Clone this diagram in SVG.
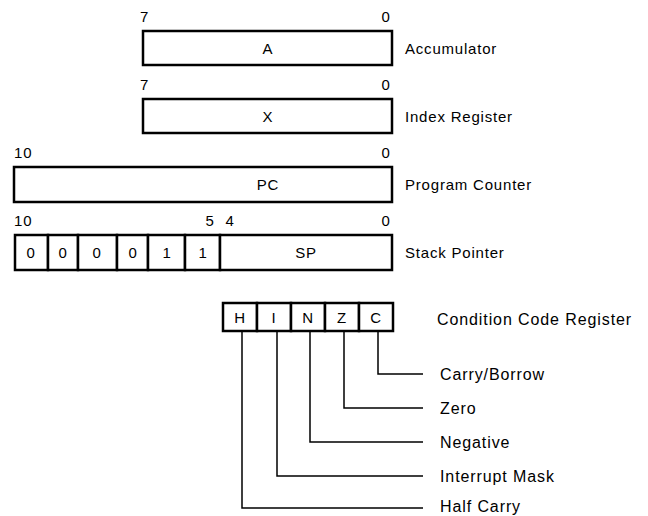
<svg xmlns="http://www.w3.org/2000/svg" width="648" height="516" viewBox="0 0 648 516">
<style>
.box{fill:#fff;stroke:#000;stroke-width:2.5}
.cell{fill:#fff;stroke:#000;stroke-width:2.5}
.t{font-family:"Liberation Sans",Arial,sans-serif;font-size:15px;fill:#000;letter-spacing:0.8px}
.l{font-size:16px;letter-spacing:0.9px}
.c{text-anchor:middle}
.conn{fill:none;stroke:#000;stroke-width:1.5}
</style>
<rect width="648" height="516" fill="#fff"/>
<g id="accumulator">
<text class="t" x="140" y="22">7</text>
<text class="t c" x="386" y="22">0</text>
<rect class="box" x="143" y="31" width="249" height="34"/>
<text class="t c" x="268" y="54">A</text>
<text class="t" x="405" y="54">Accumulator</text>
</g>
<g id="index-register">
<text class="t" x="140" y="90">7</text>
<text class="t c" x="386" y="90">0</text>
<rect class="box" x="143" y="99" width="249" height="34"/>
<text class="t c" x="268" y="122">X</text>
<text class="t" x="405" y="122">Index Register</text>
</g>
<g id="program-counter">
<text class="t" x="14" y="158">10</text>
<text class="t c" x="386" y="158">0</text>
<rect class="box" x="14" y="167" width="378" height="35"/>
<text class="t c" x="268" y="190">PC</text>
<text class="t" x="405" y="190">Program Counter</text>
</g>
<g id="stack-pointer">
<text class="t" x="14" y="226">10</text>
<text class="t c" x="210" y="226">5</text>
<text class="t c" x="230" y="226">4</text>
<text class="t c" x="386" y="226">0</text>
<rect class="cell" x="15" y="235" width="33" height="35"/>
<rect class="cell" x="48" y="235" width="30" height="35"/>
<rect class="cell" x="78" y="235" width="39" height="35"/>
<rect class="cell" x="117" y="235" width="31" height="35"/>
<rect class="cell" x="148" y="235" width="37" height="35"/>
<rect class="cell" x="185" y="235" width="35" height="35"/>
<rect class="box" x="220" y="235" width="172" height="35"/>
<text class="t c" x="31" y="258">0</text>
<text class="t c" x="63" y="258">0</text>
<text class="t c" x="97" y="258">0</text>
<text class="t c" x="133" y="258">0</text>
<text class="t c" x="167" y="258">1</text>
<text class="t c" x="203" y="258">1</text>
<text class="t c" x="306" y="258">SP</text>
<text class="t" x="405" y="258">Stack Pointer</text>
</g>
<g id="condition-code-register">
<rect class="cell" x="223" y="303" width="34" height="28"/>
<rect class="cell" x="257" y="303" width="34" height="28"/>
<rect class="cell" x="291" y="303" width="34" height="28"/>
<rect class="cell" x="325" y="303" width="34" height="28"/>
<rect class="cell" x="359" y="303" width="34" height="28"/>
<text class="t c" x="240" y="323">H</text>
<text class="t c" x="274" y="323">I</text>
<text class="t c" x="308" y="323">N</text>
<text class="t c" x="342" y="323">Z</text>
<text class="t c" x="376" y="323">C</text>
<text class="t l" x="437" y="325">Condition Code Register</text>
</g>
<g id="connectors">
<path class="conn" d="M378,331 V374 H423"/>
<path class="conn" d="M344,331 V408 H423"/>
<path class="conn" d="M310,331 V442 H423"/>
<path class="conn" d="M277,331 V476 H423"/>
<path class="conn" d="M242,331 V508 H423"/>
</g>
<g id="flag-labels">
<text class="t l" x="440" y="380">Carry/Borrow</text>
<text class="t l" x="440" y="414">Zero</text>
<text class="t l" x="440" y="448">Negative</text>
<text class="t l" x="440" y="482">Interrupt Mask</text>
<text class="t l" x="440" y="512">Half Carry</text>
</g>
</svg>
